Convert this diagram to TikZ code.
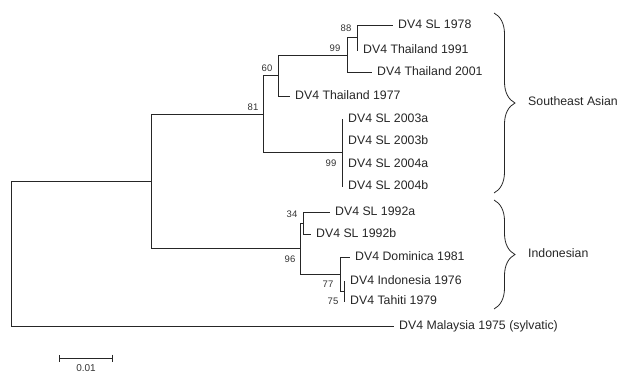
\documentclass[tikz,border=0pt]{standalone}
\usepackage{fontspec}
\setmainfont{Liberation Sans}
\usepackage{tikz}
\usetikzlibrary{positioning, arrows.meta, decorations.pathreplacing}

\begin{document}
\begin{tikzpicture}[
	x=1pt, y=-1pt,
	branch/.style={draw=black!85, line width=0.8pt},
	leaf/.style={inner sep=1pt, text=black!85, font=\fontsize{12.3}{14}\selectfont, text height=1.5ex, text depth=.25ex},
	boot/.style={inner sep=0pt, text=black!80, font=\fontsize{9.5}{11}\selectfont},
	clade/.style={draw=black!85, line width=0.8pt, decorate, decoration={brace, amplitude=21pt, aspect=0.5}},
	node distance=4pt]

	\useasboundingbox (0,0) rectangle (623,372);

	% inner nodes of the tree
	\coordinate (R) at (11,253.5);
	\coordinate (A) at (151,181);
	\coordinate (B) at (263,114);
	\coordinate (D) at (278,75.5);
	\coordinate (E) at (347,55);
	\coordinate (F) at (357,37.5);
	\coordinate (G) at (342,152.5);
	\coordinate (C) at (300,248.5);
	\coordinate (H) at (303,223);
	\coordinate (I) at (340,274);
	\coordinate (J) at (344,291);

	% tips
	\coordinate (tSL78) at (393,25);
	\coordinate (tTh91) at (358,50);
	\coordinate (tTh01) at (372,72);
	\coordinate (tTh77) at (290,96);
	\coordinate (tSL03a) at (343,119);
	\coordinate (tSL03b) at (343,141);
	\coordinate (tSL04a) at (343,164);
	\coordinate (tSL04b) at (343,186);
	\coordinate (tSL92a) at (330,212);
	\coordinate (tSL92b) at (311,234);
	\coordinate (tDom) at (350,257);
	\coordinate (tIndo) at (345,281);
	\coordinate (tTah) at (345,301);
	\coordinate (tMal) at (394,326);

	% branches
	\draw[branch] (R) |- (A);
	\draw[branch] (R) |- (tMal);
	\draw[branch] (A) |- (B);
	\draw[branch] (A) |- (C);
	\draw[branch] (B) |- (D);
	\draw[branch] (B) |- (G);
	\draw[branch] (D) |- (E);
	\draw[branch] (D) |- (tTh77);
	\draw[branch] (E) |- (F);
	\draw[branch] (E) |- (tTh01);
	\draw[branch] (F) |- (tSL78);
	\draw[branch] (F) |- (tTh91);
	\draw[branch] (G) |- (tSL03a);
	\draw[branch] (G) |- (tSL03b);
	\draw[branch] (G) |- (tSL04a);
	\draw[branch] (G) |- (tSL04b);
	\draw[branch] (C) |- (H);
	\draw[branch] (C) |- (I);
	\draw[branch] (H) |- (tSL92a);
	\draw[branch] (H) |- (tSL92b);
	\draw[branch] (I) |- (tDom);
	\draw[branch] (I) |- (J);
	\draw[branch] (J) |- (tIndo);
	\draw[branch] (J) |- (tTah);

	% taxa
	\node (SL78) [leaf, right=of tSL78, anchor=west] {DV4 SL 1978};
	\node (Th91) [leaf, right=of tTh91, anchor=west] {DV4 Thailand 1991};
	\node (Th01) [leaf, right=of tTh01, anchor=west] {DV4 Thailand 2001};
	\node (Th77) [leaf, right=of tTh77, anchor=west] {DV4 Thailand 1977};
	\node (SL03a) [leaf, right=of tSL03a, anchor=west] {DV4 SL 2003a};
	\node (SL03b) [leaf, right=of tSL03b, anchor=west] {DV4 SL 2003b};
	\node (SL04a) [leaf, right=of tSL04a, anchor=west] {DV4 SL 2004a};
	\node (SL04b) [leaf, right=of tSL04b, anchor=west] {DV4 SL 2004b};
	\node (SL92a) [leaf, right=of tSL92a, anchor=west] {DV4 SL 1992a};
	\node (SL92b) [leaf, right=of tSL92b, anchor=west] {DV4 SL 1992b};
	\node (Dom) [leaf, right=of tDom, anchor=west] {DV4 Dominica 1981};
	\node (Indo) [leaf, right=of tIndo, anchor=west] {DV4 Indonesia 1976};
	\node (Tah) [leaf, right=of tTah, anchor=west] {DV4 Tahiti 1979};
	\node (Mal) [leaf, right=of tMal, anchor=west] {DV4 Malaysia 1975 (sylvatic)};

	% bootstrap values
	\node (bF) [boot, above left=5.5pt and 5.5pt of F] {88};
	\node (bE) [boot, above left=3.5pt and 6.5pt of E] {99};
	\node (bD) [boot, above left=3.5pt and 5.5pt of D] {60};
	\node (bB) [boot, above left=3.5pt and 4.5pt of B] {81};
	\node (bG) [boot, below left=7.5pt and 5.5pt of G] {99};
	\node (bH) [boot, above left=5.5pt and 5.5pt of H] {34};
	\node (bC) [boot, below left=7pt and 4.5pt of C] {96};
	\node (bI) [boot, below left=6.5pt and 6.5pt of I] {77};
	\node (bJ) [boot, below left=6.5pt and 5.5pt of J] {75};

	% clades
	\coordinate (seTop) at (494,13);
	\coordinate (seBot) at (494,193);
	\coordinate (inTop) at (494,200);
	\coordinate (inBot) at (494,309);
	\draw[clade] (seTop) -- (seBot);
	\draw[clade] (inTop) -- (inBot);
	\node (SEA) [leaf, anchor=west] at (527,102) {Southeast Asian};
	\node (Ind) [leaf, anchor=west] at (527,254) {Indonesian};

	% scale bar
	\coordinate (sbL) at (59,358);
	\coordinate (sbR) at (113,358);
	\coordinate (sbM) at (86,358);
	\draw[branch, {Bar[width=7pt]}-{Bar[width=7pt]}] (sbL) -- (sbR);
	\node (sb) [boot, font=\fontsize{10}{12}\selectfont, below=6pt of sbM] {0.01};
\end{tikzpicture}
\end{document}
